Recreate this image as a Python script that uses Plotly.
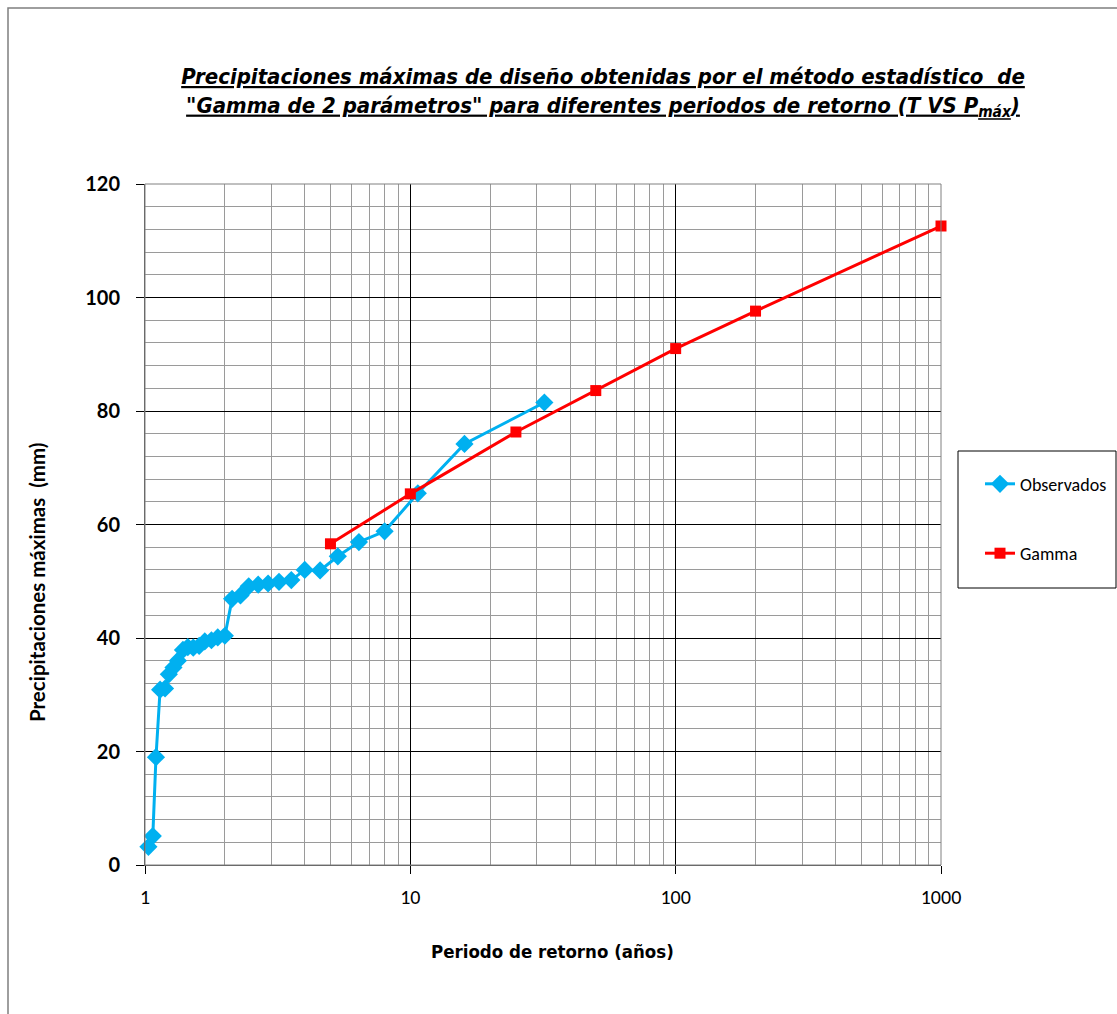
import plotly.graph_objects as go

# Observed data (return period T in years, max precipitation in mm)
obs_T = [1.03, 1.07, 1.10, 1.14, 1.19, 1.23, 1.28, 1.33, 1.39, 1.45, 1.52, 1.60,
         1.68, 1.78, 1.88, 2.00, 2.13, 2.29, 2.46, 2.67, 2.91, 3.20, 3.56, 4.00,
         4.57, 5.33, 6.40, 8.00, 10.67, 16.0, 32.0]
obs_P = [3.2, 5.1, 19.0, 30.9, 31.1, 33.6, 34.8, 36.0, 37.9, 38.4, 38.3, 38.6,
         39.4, 39.6, 40.1, 40.4, 46.9, 47.5, 49.1, 49.4, 49.6, 49.9, 50.2, 52.0,
         51.9, 54.4, 56.9, 58.8, 65.5, 74.2, 81.5]

# Gamma 2-parameter design values
gam_T = [5, 10, 25, 50, 100, 200, 1000]
gam_P = [56.6, 65.4, 76.3, 83.6, 91.0, 97.6, 112.6]

x_ticks = [1, 10, 100, 1000]
y_ticks = [0, 20, 40, 60, 80, 100, 120]

W, H = 1117, 1014
L, R, T_, B = 145, W - 941, 184, H - 865
PW, PH = 941 - L, 865 - T_


def px_x(p):
    return (p - L) / PW


def px_y(p):
    return (865 - p) / PH


fig = go.Figure()
fig.add_trace(go.Scatter(
    x=obs_T, y=obs_P, mode="lines+markers", name="Observados",
    legendgroup="a", cliponaxis=False,
    line=dict(color="#00B0F0", width=3),
    marker=dict(symbol="diamond", size=14, color="#00B0F0"),
))
fig.add_trace(go.Scatter(
    x=gam_T, y=gam_P, mode="lines+markers", name="Gamma",
    legendgroup="b", cliponaxis=False,
    line=dict(color="#FF0000", width=3),
    marker=dict(symbol="square", size=11, color="#FF0000"),
))

title_txt = ("<b><i><u>Precipitaciones máximas de diseño obtenidas por el método estadístico  de</u></i></b><br>"
             "<b><i><u>\"Gamma de 2 parámetros\" para diferentes periodos de retorno (T VS P<sub>máx</sub>)</u></i></b>")

NARROW = "Liberation Sans Narrow, Arial Narrow, DejaVu Sans Condensed, sans-serif"
CAL = "Carlito, Lato, sans-serif"
BOLDF = "Lato, sans-serif"

fig.update_layout(
    width=W, height=H,
    margin=dict(l=L, r=R, t=T_, b=B, autoexpand=False),
    paper_bgcolor="white", plot_bgcolor="white",
    title=dict(
        text=title_txt,
        font=dict(family=NARROW, size=22, color="black"),
        x=603 / W, xanchor="center", xref="container",
        y=1 - 84 / H, yanchor="top", yref="container",
    ),
    showlegend=True,
    legend=dict(
        x=px_x(980), xanchor="left",
        y=px_y(450), yanchor="top",
        borderwidth=0, bgcolor="rgba(0,0,0,0)",
        font=dict(family=CAL, size=18, color="black"),
        title=dict(text=" ", font=dict(size=12)),
        tracegroupgap=43,
    ),
    xaxis=dict(
        type="log", range=[0, 3],
        tickvals=x_ticks, ticktext=[str(v) for v in x_ticks],
        showgrid=True, gridcolor="black", gridwidth=1,
        minor=dict(showgrid=True, gridcolor="#9a9a9a", gridwidth=1, dtick="D1", ticks=""),
        ticks="outside", ticklen=8, tickcolor="black",
        showline=True, linecolor="#555", linewidth=1, mirror=False,
        zeroline=False,
        tickfont=dict(family=CAL, size=20, color="black"),
        ticklabelstandoff=6,
    ),
    yaxis=dict(
        range=[0, 120],
        tickvals=y_ticks,
        showgrid=True, gridcolor="black", gridwidth=1,
        minor=dict(showgrid=True, gridcolor="#9a9a9a", gridwidth=1, dtick=4, ticks=""),
        ticks="outside", ticklen=8, tickcolor="black",
        showline=True, linecolor="#555", linewidth=1,
        zeroline=False,
        tickfont=dict(family=BOLDF, size=20, color="black", weight="bold"),
        ticklabelstandoff=12,
    ),
)

# axis titles (placed as in the reference)
fig.add_annotation(text="<b>Periodo de retorno (años)</b>", xref="paper", yref="paper",
                   x=px_x(552), y=px_y(952), xanchor="center", yanchor="middle",
                   showarrow=False, font=dict(family=NARROW, size=18.5, color="black"))
fig.add_annotation(text="<b>Precipitaciones máximas  (mm)</b>", xref="paper", yref="paper",
                   x=px_x(37), y=px_y(583), xanchor="center", yanchor="middle",
                   textangle=-90, showarrow=False,
                   font=dict(family=BOLDF, size=20.5, color="black"))

# plot-area border (top/right)
fig.add_shape(type="rect", xref="paper", yref="paper", x0=0, x1=1, y0=0, y1=1,
              line=dict(color="#808080", width=1), fillcolor="rgba(0,0,0,0)", layer="above")
# legend box
fig.add_shape(type="rect", xref="paper", yref="paper",
              x0=px_x(958), x1=px_x(1116), y0=px_y(588), y1=px_y(451),
              line=dict(color="black", width=1), fillcolor="white", layer="above")
# outer chart frame
fig.add_shape(type="rect", xref="paper", yref="paper",
              x0=px_x(8), x1=px_x(1122), y0=px_y(1022), y1=px_y(8),
              line=dict(color="#7f7f7f", width=1.5), fillcolor="rgba(0,0,0,0)", layer="below")

fig.write_html("out.html")
